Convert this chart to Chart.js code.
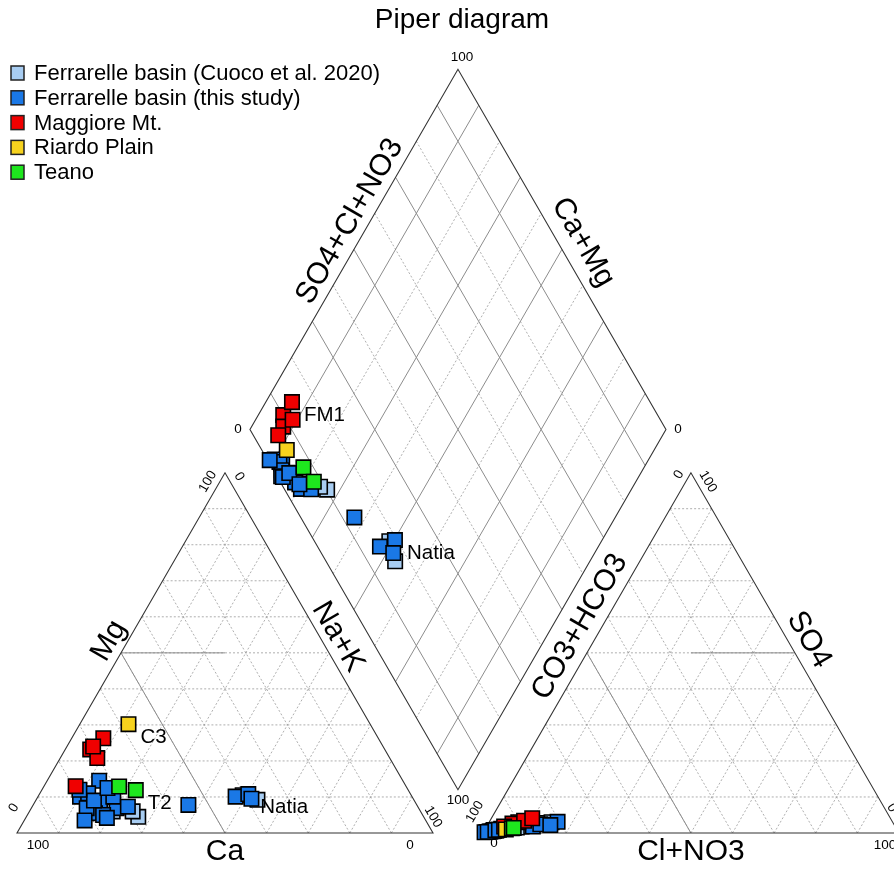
<!DOCTYPE html>
<html>
<head>
<meta charset="utf-8">
<script src="https://cdn.jsdelivr.net/npm/chart.js@4.4.0/dist/chart.umd.min.js"></script>
<style>
  html, body { margin: 0; padding: 0; background: #fff; }
  canvas { display: block; }
</style>
</head>
<body>
<canvas id="piper" width="894" height="869"></canvas>
<script>
// group names and colours
const groupNames = ['Ferrarelle basin (Cuoco et al. 2020)', 'Ferrarelle basin (this study)', 'Maggiore Mt.', 'Riardo Plain', 'Teano'];
const groupColors = ['#a8cdf2', '#1a78e6', '#f00000', '#f6d21e', '#1ee61e'];

// meq% values. Ca = 100 - Mg - Na, HCO3 = 100 - SO4 - Cl
const cuocoMg  = [4.5, 6.0, 9.2, 8.0, 6.0, 10.5];
const cuocoNa  = [26.9, 24.8, 53.2, 15.0, 20.0, 49.0];
const cuocoSO4 = [1.8, 1.5, 2.8, 0.8, 1.2, 3.0];
const cuocoCl  = [8.4, 7.4, 13.8, 2.2, 3.8, 15.0];

const studyMg  = [14.5, 10.1, 11.0, 8.7, 5.5, 6.9, 6.9, 10.1, 5.0, 7.3, 7.8, 10.1, 10.8, 9.5, 9.0, 12.0, 3.5, 12.5, 4.2];
const studyNa  = [12.5, 10.1, 11.6, 15.6, 16.0, 13.3, 20.5, 18.1, 18.2, 23.0, 37.3, 47.5, 50.2, 51.6, 14.0, 9.0, 14.5, 15.5, 19.5];
const studySO4 = [0.6, 0.4, 0.5, 0.6, 0.7, 0.4, 0.9, 0.8, 0.7, 1.4, 1.8, 2.4, 3.1, 2.2, 0.3, 0.2, 0.3, 0.8, 0.9];
const studyCl  = [2.4, 1.4, 2.1, 2.1, 2.3, 1.6, 3.1, 2.9, 2.8, 5.0, 11.1, 12.6, 16.4, 15.1, 0.7, 0.3, 1.0, 2.6, 3.4];

const maggMg  = [23.2, 26.3, 20.8, 13.0, 24.0];
const maggNa  = [6.0, 7.6, 8.9, 7.6, 6.3];
const maggSO4 = [3.0, 2.6, 3.4, 1.8, 4.1];
const maggCl  = [7.0, 5.8, 8.2, 4.2, 9.8];

const riardoMg  = [30.2];
const riardoNa  = [11.7];
const riardoSO4 = [1.0];
const riardoCl  = [5.0];

const teanoMg  = [12.9, 11.9];
const teanoNa  = [18.1, 22.6];
const teanoSO4 = [1.3, 1.4];
const teanoCl  = [6.3, 6.7];

// sample labels: [group index, sample index, plot part, text]
const sampleLabels = [
  [2, 4, 'diamond', 'FM1'],
  [3, 0, 'cation', 'C3'],
  [4, 1, 'cation', 'T2'],
  [1, 12, 'cation', 'Natia'],
  [1, 12, 'diamond', 'Natia']
];

// piper geometry, triangle side = 100
const GAP = 12;
const S3 = Math.sqrt(3) / 2;
const cation = (mg, na) => ({ x: na + mg / 2, y: mg * S3 });
const anion = (so4, cl) => ({ x: 100 + GAP + cl + so4 / 2, y: so4 * S3 });
const diamond = (nak, s) => ({ x: 50 + GAP / 2 + (s + nak) / 2, y: GAP * S3 + 100 * S3 + (s - nak) * S3 });

const groups = [
  [cuocoMg, cuocoNa, cuocoSO4, cuocoCl],
  [studyMg, studyNa, studySO4, studyCl],
  [maggMg, maggNa, maggSO4, maggCl],
  [riardoMg, riardoNa, riardoSO4, riardoCl],
  [teanoMg, teanoNa, teanoSO4, teanoCl]
];

function pointsOf(g) {
  const [mg, na, so4, cl] = g;
  const pts = [];
  mg.forEach((m, i) => {
    pts.push(cation(m, na[i]));
    pts.push(anion(so4[i], cl[i]));
    pts.push(diamond(na[i], so4[i] + cl[i]));
  });
  return pts;
}

function partPoint(gi, si, part) {
  const [mg, na, so4, cl] = groups[gi];
  if (part === 'cation') return cation(mg[si], na[si]);
  if (part === 'anion') return anion(so4[si], cl[si]);
  return diamond(na[si], so4[si] + cl[si]);
}

const FONT = '"Liberation Sans", Arial, sans-serif';

const piperFrame = {
  id: 'piperFrame',
  beforeDatasetsDraw(chart) {
    const { ctx } = chart;
    const X = v => chart.scales.x.getPixelForValue(v);
    const Y = v => chart.scales.y.getPixelForValue(v);
    const seg = (a, b) => { ctx.beginPath(); ctx.moveTo(X(a.x), Y(a.y)); ctx.lineTo(X(b.x), Y(b.y)); ctx.stroke(); };
    ctx.save();
    // dashed 10% grid
    ctx.strokeStyle = '#9a9a9a';
    ctx.lineWidth = 0.8;
    ctx.setLineDash([2, 2]);
    for (let k = 10; k < 100; k += 10) {
      seg(cation(k, 0), cation(k, 100 - k));
      seg(cation(0, k), cation(100 - k, k));
      seg(cation(0, 100 - k), cation(100 - k, 0));
      seg(anion(k, 0), anion(k, 100 - k));
      seg(anion(0, k), anion(100 - k, k));
      seg(anion(0, 100 - k), anion(100 - k, 0));
      if (k % 20 === 0) {
        seg(diamond(k, 0), diamond(k, 100));
        seg(diamond(0, k), diamond(100, k));
      }
    }
    // solid lines
    ctx.setLineDash([]);
    ctx.strokeStyle = '#8c8c8c';
    ctx.lineWidth = 1;
    for (let k = 10; k < 100; k += 20) {
      seg(diamond(k, 0), diamond(k, 100));
      seg(diamond(0, k), diamond(100, k));
    }
    seg(cation(50, 0), cation(50, 25));
    seg(cation(0, 50), cation(50, 0));
    seg(anion(50, 25), anion(50, 50));
    seg(anion(0, 50), anion(50, 0));
    // outlines
    ctx.strokeStyle = '#333';
    ctx.lineWidth = 1.1;
    const poly = pts => {
      ctx.beginPath();
      pts.forEach((p, i) => i ? ctx.lineTo(X(p.x), Y(p.y)) : ctx.moveTo(X(p.x), Y(p.y)));
      ctx.closePath();
      ctx.stroke();
    };
    poly([cation(0, 0), cation(0, 100), cation(100, 0)]);
    poly([anion(0, 0), anion(0, 100), anion(100, 0)]);
    poly([diamond(0, 0), diamond(100, 0), diamond(100, 100), diamond(0, 100)]);
    ctx.restore();
  },
  afterDatasetsDraw(chart) {
    const { ctx } = chart;
    const X = v => chart.scales.x.getPixelForValue(v);
    const Y = v => chart.scales.y.getPixelForValue(v);
    const text = (str, p, dx, dy, size, rot, align) => {
      ctx.save();
      ctx.translate(X(p.x) + dx, Y(p.y) + dy);
      ctx.rotate(rot * Math.PI / 180);
      ctx.font = size + 'px ' + FONT;
      ctx.fillStyle = '#000';
      ctx.textAlign = align || 'center';
      ctx.textBaseline = 'middle';
      ctx.fillText(str, 0, 0);
      ctx.restore();
    };
    // axis titles
    text('SO4+Cl+NO3', diamond(0, 50), -4, -28, 30, -60);
    text('Ca+Mg', diamond(50, 100), 21, -7, 30, 60);
    text('Mg', cation(50, 0), -12, -12, 30, -60);
    text('Na+K', cation(50, 50), 9, -16, 30, 60);
    text('Ca', cation(0, 50), 0, 19, 30, 0);
    text('CO3+HCO3', anion(50, 0), -7, -26, 30, -60);
    text('SO4', anion(50, 50), 14, -13, 30, 60);
    text('Cl+NO3', anion(0, 50), 0, 19, 30, 0);
    // tick labels at the corners
    const t = 13.5;
    text('100', diamond(0, 100), 4, -12, t, 0);
    text('0', diamond(0, 0), -12, 0, t, 0);
    text('0', diamond(100, 100), 12, 0, t, 0);
    text('100', diamond(100, 0), 0, 11, t, 0);
    text('100', cation(0, 0), 21, 12, t, 0);
    text('0', cation(0, 0), -3, -25, t, -60);
    text('100', cation(100, 0), -17, 9, t, -60);
    text('0', cation(100, 0), 14, 4, t, 60);
    text('100', cation(0, 100), 0, -16, t, 60);
    text('0', cation(0, 100), -23, 12, t, 0);
    text('100', anion(0, 0), -8, -21, t, -60);
    text('0', anion(0, 0), 11, 10, t, 0);
    text('0', anion(100, 0), -12, 2, t, -60);
    text('100', anion(100, 0), 17, 9, t, 60);
    text('100', anion(0, 100), -14, 12, t, 0);
    text('0', anion(0, 100), -7, -25, t, 60);
    // sample labels
    sampleLabels.forEach(([gi, si, part, str]) => {
      text(str, partPoint(gi, si, part), 12, 13, 20.5, 0, 'left');
    });
    // title
    ctx.save();
    ctx.font = '28px ' + FONT;
    ctx.fillStyle = '#000';
    ctx.textAlign = 'center';
    ctx.textBaseline = 'middle';
    ctx.fillText('Piper diagram', 462, 20);
    // legend
    ctx.font = '22px ' + FONT;
    ctx.textAlign = 'left';
    groupNames.forEach((name, i) => {
      const y = 73 + i * 24.8;
      ctx.fillStyle = groupColors[i];
      ctx.fillRect(11, y - 7, 13, 14);
      ctx.strokeStyle = '#222';
      ctx.lineWidth = 1.5;
      ctx.strokeRect(11, y - 7, 13, 14);
      ctx.fillStyle = '#000';
      ctx.fillText(name, 34, y + 1);
    });
    ctx.restore();
  }
};

const PX = 4.16;  // pixels per unit
const datasets = groups.map((g, i) => ({
  label: groupNames[i],
  data: pointsOf(g),
  pointStyle: 'rect',
  pointRadius: 10.2,
  pointHoverRadius: 10.2,
  backgroundColor: groupColors[i],
  borderColor: '#000',
  borderWidth: 1.6,
  order: 5 - i,
  clip: false
}));

new Chart(document.getElementById('piper'), {
  type: 'scatter',
  data: { datasets },
  options: {
    responsive: false,
    devicePixelRatio: 1,
    animation: false,
    layout: { padding: 0, autoPadding: false },
    plugins: { legend: { display: false }, tooltip: { enabled: false }, title: { display: false } },
    scales: {
      x: { type: 'linear', display: false, min: -17 / PX, max: (894 - 17) / PX },
      y: { type: 'linear', display: false, min: -(869 - 833) / PX, max: 833 / PX }
    }
  },
  plugins: [piperFrame]
});
</script>
</body>
</html>
